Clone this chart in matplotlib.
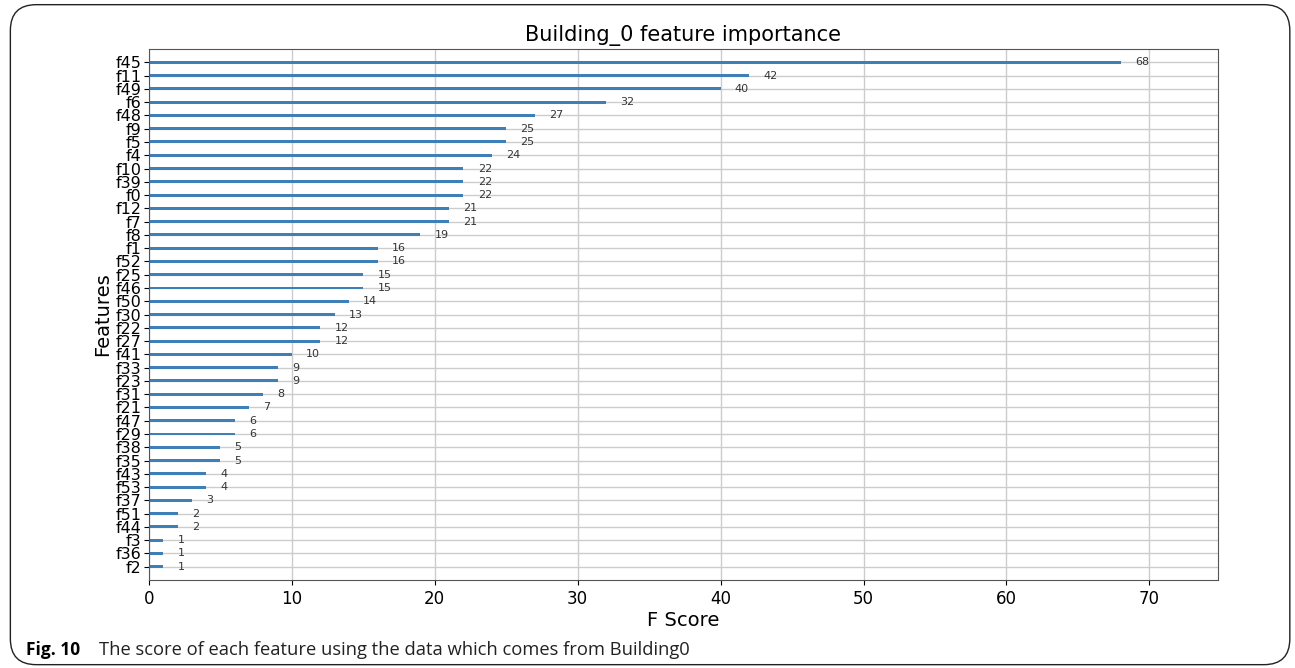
import numpy as np
import matplotlib.pyplot as plt
from matplotlib.patches import FancyBboxPatch

# feature names and F scores, top to bottom as in the chart
features = ['f45', 'f11', 'f49', 'f6', 'f48', 'f9', 'f5', 'f4', 'f10', 'f39',
            'f0', 'f12', 'f7', 'f8', 'f1', 'f52', 'f25', 'f46', 'f50', 'f30',
            'f22', 'f27', 'f41', 'f33', 'f23', 'f31', 'f21', 'f47', 'f29', 'f38',
            'f35', 'f43', 'f53', 'f37', 'f51', 'f44', 'f3', 'f36', 'f2']
scores = [68, 42, 40, 32, 27, 25, 25, 24, 22, 22,
          22, 21, 21, 19, 16, 16, 15, 15, 14, 13,
          12, 12, 10, 9, 9, 8, 7, 6, 6, 5,
          5, 4, 4, 3, 2, 2, 1, 1, 1]
x_ticks = [0, 10, 20, 30, 40, 50, 60, 70]

# xgboost style: lowest first
feat = features[::-1]
vals = scores[::-1]
ylocs = np.arange(len(vals))

fig = plt.figure(figsize=(12.95, 6.68), dpi=100)

# outer rounded frame
frame = FancyBboxPatch((0.008, 0.005), 0.988, 0.988,
                       boxstyle="round,pad=0,rounding_size=0.02",
                       transform=fig.transFigure, fill=False,
                       ec='#222222', lw=1.0, mutation_aspect=1295 / 668)
fig.patches.append(frame)

ax = fig.add_axes([0.115, 0.1317, 0.8255, 0.7949])
ax.barh(ylocs, vals, align='center', height=0.22, color='#3f7fb7')
for x, y in zip(vals, ylocs):
    ax.text(x + 1, y, x, va='center', fontsize=8, color='#333333')

ax.set_yticks(ylocs)
ax.set_yticklabels(feat, fontsize=11.5)
ax.set_xticks(x_ticks)
ax.tick_params(axis='x', labelsize=12)
ax.tick_params(axis='y', pad=2)
ax.set_xlim(0, max(vals) * 1.1)
ax.set_ylim(-1, len(vals))
ax.grid(True, color='#cccccc', lw=1)
ax.set_axisbelow(True)
for s in ax.spines.values():
    s.set_color('#555555')

ax.set_title('Building_0 feature importance', fontsize=15, pad=6)
ax.set_xlabel('F Score', fontsize=14, labelpad=2)
ax.set_ylabel('Features', fontsize=14, labelpad=2)

fig.text(0.02, 0.027, 'Fig. 10', fontsize=12.5, fontweight='bold',
         family='Open Sans', va='center')
fig.text(0.0765, 0.027, 'The score of each feature using the data which comes from Building0',
         fontsize=13.2, family='Open Sans', va='center', color='#222222')

fig.savefig('out.png', dpi=100)
